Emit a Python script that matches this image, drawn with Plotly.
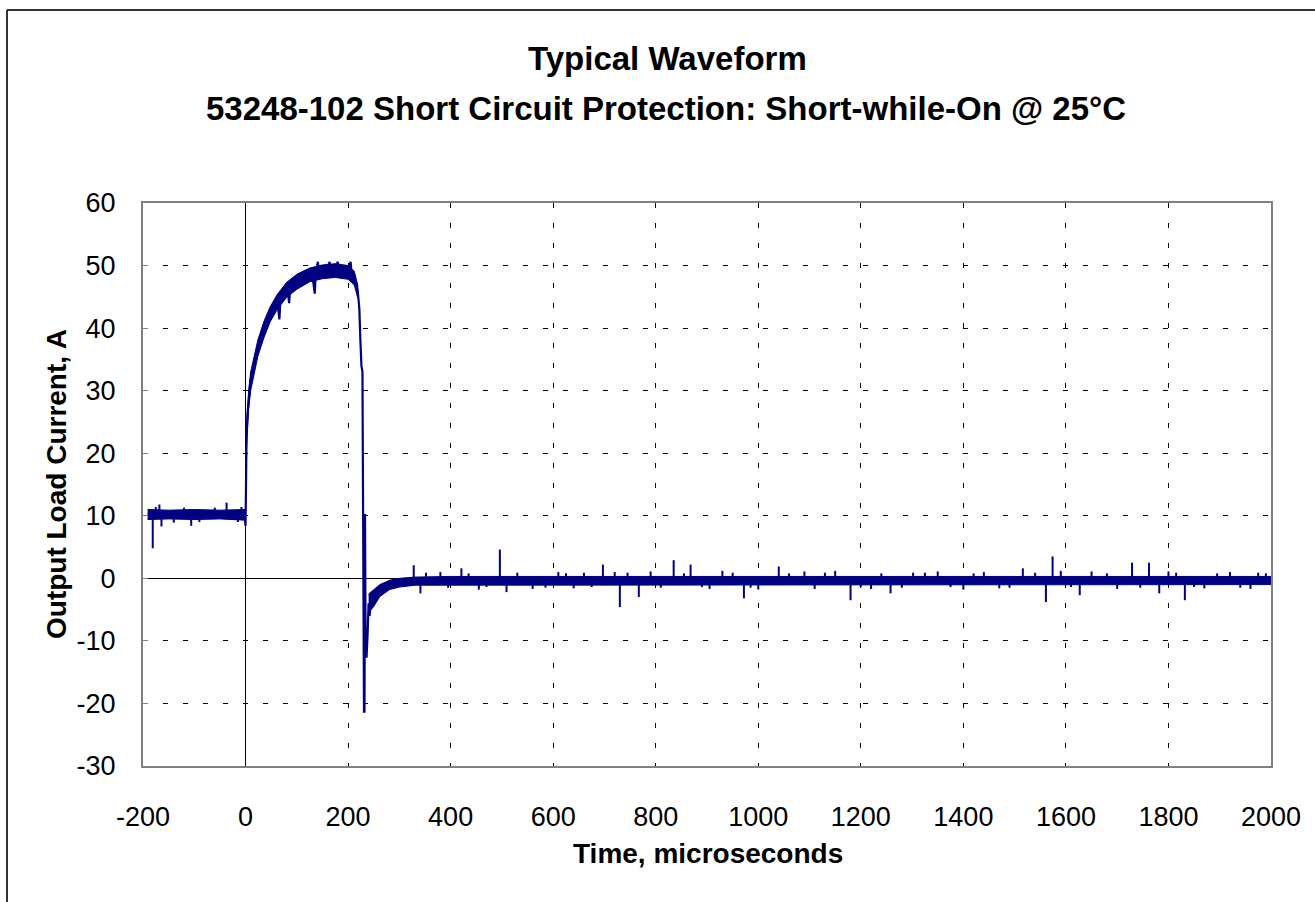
import plotly.graph_objects as go

# ---------------- data ----------------
# centre line of the waveform (time in microseconds, current in A)
wave_t = [-191, -120, -60, -2, 0, 1, 2, 4, 6, 9, 12, 16, 20, 24, 30, 36, 41, 48, 55, 62,
          66, 68, 75, 82, 85, 87, 95, 103, 111, 120, 130, 135, 137, 141, 143, 150, 158,
          164, 166, 172, 180, 182, 190, 198, 205, 207, 212, 216, 219, 222, 224, 226, 228,
          229, 231, 232, 233, 234, 236, 238, 240, 242, 245, 248, 252, 256, 260, 265, 270,
          276, 282, 290, 298, 306, 314, 320, 330, 360, 500, 800, 1100, 1400, 1700, 2000]
wave_v = [10.2, 10.2, 10.2, 10.2, 8.4, 19.0, 23.0, 26.5, 28.5, 31.0, 32.5, 34.0, 35.5, 36.8,
          38.3, 39.8, 40.8, 42.2, 43.3, 44.2, 41.4, 44.4, 45.4, 46.2, 44.0, 46.3, 47.0, 47.6,
          48.0, 48.4, 48.7, 45.5, 48.8, 50.6, 48.9, 49.0, 49.2, 50.6, 49.1, 49.3, 50.6, 49.2,
          49.1, 48.9, 50.6, 48.6, 48.0, 47.0, 45.8, 43.0, 38.0, 34.0, 33.0, 10.0, -21.3,
          -21.3, 10.3, -8.0, -12.7, -9.0, -4.0, -6.0, -3.0, -4.2, -2.6, -3.3, -2.0, -2.4,
          -1.5, -1.8, -1.1, -1.2, -0.7, -0.9, -0.5, -0.7, -0.4, -0.35, -0.35, -0.35, -0.35,
          -0.35, -0.35, -0.35]

# noise band (upper / lower edge) before the short
band1_t = [-191, -150, -100, -50, -1]
band1_hi = [11.0, 10.9, 11.0, 10.9, 11.0]
band1_lo = [9.4, 9.5, 9.4, 9.5, 9.3]

# noise band during the short-circuit current
band2_t = [1, 3, 6, 10, 16, 24, 36, 48, 62, 80, 100, 125, 150, 175, 200, 212, 219]
band2_hi = [22.5, 26.5, 30.0, 33.0, 35.4, 38.1, 41.1, 43.4, 45.4, 47.3, 48.6, 49.6, 50.1,
            50.3, 50.0, 49.1, 46.8]
band2_lo = [19.5, 23.5, 27.0, 30.0, 32.6, 35.5, 38.5, 41.0, 43.0, 44.9, 46.2, 47.4, 47.9,
            48.1, 47.8, 46.9, 44.8]

# noise band after protection tripped
band3_t = [240, 250, 262, 281, 300, 330, 400, 600, 800, 1000, 1200, 1400, 1600, 1800, 2000]
band3_hi = [-2.5, -1.8, -1.0, -0.3, 0.0, 0.2, 0.3, 0.3, 0.3, 0.3, 0.3, 0.3, 0.3, 0.3, 0.3]
band3_lo = [-5.5, -4.5, -2.9, -1.8, -1.4, -1.1, -1.0, -1.0, -1.0, -1.0, -1.0, -1.0, -1.0,
            -1.0, -1.0]

# isolated noise spikes: time, level they start from, peak value
spike_t = [-181, -175, -168, -164, -140, -120, -106, -90, -60, -37, -15, -8,
           328, 341, 380, 421, 455, 496, 509, 560, 610, 640, 660, 697, 720, 730, 767,
           790, 835, 868, 905, 930, 972, 1000, 1040, 1090, 1110, 1150, 1180, 1220, 1258,
           1302, 1350, 1400, 1440, 1470, 1516, 1561, 1574, 1590, 1627, 1650, 1700, 1729,
           1762, 1782, 1800, 1832, 1870, 1920, 1960, 1990]
spike_base = [10.0, 10.2, 10.2, 10.0, 10.2, 10.2, 10.0, 10.2, 10.2, 10.2, 10.2, 10.2,
              -0.35, -0.35, -0.35, -0.35, -0.35, -0.35, -0.35, -0.35, -0.35, -0.35, -0.35,
              -0.35, -0.35, -0.35, -0.35, -0.35, -0.35, -0.35, -0.35, -0.35, -0.35, -0.35,
              -0.35, -0.35, -0.35, -0.35, -0.35, -0.35, -0.35, -0.35, -0.35, -0.35, -0.35,
              -0.35, -0.35, -0.35, -0.35, -0.35, -0.35, -0.35, -0.35, -0.35, -0.35, -0.35,
              -0.35, -0.35, -0.35, -0.35, -0.35, -0.35]
spike_peak = [4.8, 11.4, 11.8, 8.3, 8.9, 11.3, 8.4, 9.0, 11.3, 12.1, 9.0, 11.4,
              2.1, -2.4, 1.0, 1.6, -1.8, 4.6, -2.2, -1.7, 1.0, -1.6, 0.9, 2.2, 1.0, -4.6,
              -3.0, 1.1, 2.9, 2.2, -1.7, 1.2, -3.2, -1.8, 1.9, 1.1, -1.7, 1.2, -3.5, -1.7,
              -2.4, 0.9, 1.1, -1.8, 1.0, -1.6, 1.6, -3.8, 3.5, 1.2, -2.7, 1.1, -1.7, 2.5,
              2.5, -2.4, 1.1, -3.5, -1.6, 1.0, -1.7, 0.8]

# small teeth on the edges of the noise band after the trip
tooth_t = [352, 395, 435, 470, 530, 585, 625, 675, 745, 810, 855, 890, 950, 985, 1060,
           1130, 1200, 1240, 1280, 1325, 1375, 1420, 1490, 1540, 1610, 1680, 1745, 1815,
           1850, 1895, 1940, 1975]
tooth_v = [0.9, -1.5, 0.8, -1.4, 0.9, -1.5, 0.8, -1.4, 0.9, -1.5, 0.8, -1.4, 0.9, -1.5,
           0.8, 0.9, -1.4, 0.8, -1.5, 0.9, -1.4, 0.8, -1.5, 0.9, -1.4, 0.8, -1.5, 0.9,
           -1.4, 0.8, -1.5, 0.9]

x_ticks = [-200, 0, 200, 400, 600, 800, 1000, 1200, 1400, 1600, 1800, 2000]
x_tick_text = ["-200", "0", "200", "400", "600", "800", "1000", "1200", "1400", "1600",
               "1800", "2000"]
y_ticks = [-30, -20, -10, 0, 10, 20, 30, 40, 50, 60]
y_tick_text = ["-30", "-20", "-10", "0", "10", "20", "30", "40", "50", "60"]

title_1 = "Typical Waveform"
title_2 = "53248-102 Short Circuit Protection: Short-while-On @ 25°C"
x_title = "Time, microseconds"
y_title = "Output Load Current, A"

# ---------------- figure ----------------
NAVY = "#000080"
FONT = "Liberation Sans, Arial, sans-serif"

fig = go.Figure()


def add_band(t, hi, lo):
    fig.add_trace(go.Scatter(
        x=list(t) + list(reversed(t)),
        y=list(hi) + list(reversed(lo)),
        mode="lines", fill="toself", fillcolor=NAVY,
        line=dict(color=NAVY, width=1), hoverinfo="skip", showlegend=False))


add_band(band1_t, band1_hi, band1_lo)
add_band(band2_t, band2_hi, band2_lo)
add_band(band3_t, band3_hi, band3_lo)

fig.add_trace(go.Scatter(x=wave_t, y=wave_v, mode="lines",
                         line=dict(color=NAVY, width=2.2), showlegend=False))

sx, sy = [], []
for t, b, p in zip(spike_t, spike_base, spike_peak):
    sx += [t, t, None]
    sy += [b, p, None]
fig.add_trace(go.Scatter(x=sx, y=sy, mode="lines", connectgaps=False,
                         line=dict(color=NAVY, width=2), showlegend=False))

tx, ty = [], []
for t, v in zip(tooth_t, tooth_v):
    tx += [t, t, None]
    ty += [-0.35, v, None]
fig.add_trace(go.Scatter(x=tx, y=ty, mode="lines", connectgaps=False,
                         line=dict(color=NAVY, width=2), showlegend=False))

L, R, T, B = 143, 44, 203, 136
W, H = 1315, 902
pw, ph = W - L - R, H - T - B


def px_x(p):
    return (p - L) / pw


def px_y(p):
    return (H - B - p) / ph


fig.update_layout(
    width=W, height=H,
    margin=dict(l=L, r=R, t=T, b=B, autoexpand=False),
    paper_bgcolor="white", plot_bgcolor="white",
    font=dict(family=FONT, color="black"),
    showlegend=False,
)

fig.update_xaxes(
    range=[-200, 2000], tickvals=x_ticks, ticktext=x_tick_text, ticks="",
    tickfont=dict(size=27, family=FONT, color="black"),
    ticklabelstandoff=26,
    showgrid=True, gridcolor="#000000", gridwidth=1, griddash="5px,15px",
    zeroline=True, zerolinecolor="black", zerolinewidth=1,
    showline=True, linecolor="#808080", linewidth=2, mirror=True,
)
fig.update_yaxes(
    range=[-30, 60], tickvals=y_ticks, ticktext=y_tick_text,
    ticks="inside", ticklen=5, tickcolor="#808080",
    tickfont=dict(size=27, family=FONT, color="black"),
    ticklabelstandoff=20,
    showgrid=True, gridcolor="#000000", gridwidth=1, griddash="5px,15px",
    zeroline=True, zerolinecolor="black", zerolinewidth=1,
    showline=True, linecolor="#808080", linewidth=2, mirror=True,
)

annos = [
    dict(text="<b>" + title_1 + "</b>", x=px_x(667), y=px_y(58), size=33, angle=0),
    dict(text="<b>" + title_2 + "</b>", x=px_x(666), y=px_y(108), size=33, angle=0),
    dict(text="<b>" + x_title + "</b>", x=px_x(708), y=px_y(853), size=28, angle=0),
    dict(text="<b>" + y_title + "</b>", x=px_x(56), y=px_y(484), size=28, angle=-90),
]
for a in annos:
    fig.add_annotation(text=a["text"], x=a["x"], y=a["y"], xref="paper", yref="paper",
                       xanchor="center", yanchor="middle", showarrow=False,
                       textangle=a["angle"],
                       font=dict(size=a["size"], family=FONT, color="black"))

# outer chart border (left and top edges visible in the picture)
fig.add_shape(type="line", xref="paper", yref="paper",
              x0=px_x(7), x1=px_x(7), y0=px_y(920), y1=px_y(10),
              line=dict(color="#333333", width=2))
fig.add_shape(type="line", xref="paper", yref="paper",
              x0=px_x(7), x1=px_x(1330), y0=px_y(10), y1=px_y(10),
              line=dict(color="#333333", width=2))

# remove the browser's default page margin so the figure starts at the window corner
fig.write_html("out.html", config={"displayModeBar": False},
               post_script="document.body.style.margin='0px';")
